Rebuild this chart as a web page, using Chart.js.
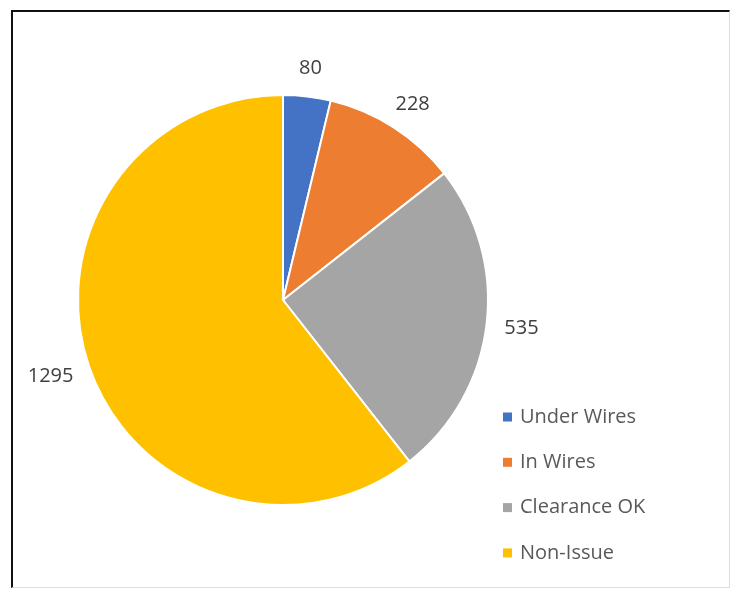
<!DOCTYPE html>
<html>
<head>
<meta charset="utf-8">
<script src="https://cdn.jsdelivr.net/npm/chart.js@4.4.0/dist/chart.umd.min.js"></script>
<style>
  html, body { margin: 0; padding: 0; background: #fff; }
  #wrap { position: relative; width: 730px; height: 589px; overflow: hidden; }
  #frame {
    position: absolute; left: 11px; top: 10px; width: 716px; height: 575px;
    border-top: 2px solid #111; border-left: 2px solid #111;
    border-right: 1px solid #ddd; border-bottom: 1px solid #ddd;
  }
  #pie { position: absolute; left: 0; top: 0; }
</style>
</head>
<body>
<div id="wrap">
  <div id="frame"></div>
  <canvas id="pie" width="730" height="589"></canvas>
</div>
<script>
var labels = ['Under Wires', 'In Wires', 'Clearance OK', 'Non-Issue'];
var values = [80, 228, 535, 1295];
var colors = ['#4472C4', '#ED7D31', '#A5A5A5', '#FFC000'];

var ctx = document.getElementById('pie').getContext('2d');

// value labels outside each slice, nearest edge a fixed gap from the rim
var outsideLabels = {
  id: 'outsideLabels',
  afterDatasetsDraw: function(chart) {
    var c = chart.ctx;
    var meta = chart.getDatasetMeta(0);
    c.save();
    c.font = '20px "Open Sans", sans-serif';
    c.fillStyle = '#404040';
    c.textAlign = 'center';
    c.textBaseline = 'middle';
    meta.data.forEach(function(arc, i) {
      var txt = String(values[i]);
      var w = c.measureText(txt).width;
      var h = 20;
      var mid = (arc.startAngle + arc.endAngle) / 2;
      var r = arc.outerRadius + 18;
      var x = arc.x + Math.cos(mid) * r + Math.cos(mid) * w / 2;
      var y = arc.y + Math.sin(mid) * r + Math.sin(mid) * h / 2;
      c.fillText(txt, x, y);
    });
    c.restore();
  }
};

// legend drawn in the lower right like the original
var sideLegend = {
  id: 'sideLegend',
  afterDraw: function(chart) {
    var c = chart.ctx;
    c.save();
    c.font = '20px "Open Sans", sans-serif';
    c.textBaseline = 'middle';
    c.textAlign = 'left';
    labels.forEach(function(lab, i) {
      var y = 417 + i * 45.3;
      c.fillStyle = colors[i];
      c.fillRect(503, y - 4.5, 9, 9);
      c.fillStyle = '#595959';
      c.fillText(lab, 520, y);
    });
    c.restore();
  }
};

var pieChart = new Chart(ctx, {
  type: 'pie',
  data: {
    labels: labels,
    datasets: [{
      data: values,
      backgroundColor: colors,
      borderColor: '#ffffff',
      borderWidth: 2
    }]
  },
  options: {
    responsive: false,
    animation: false,
    layout: { padding: { left: 77, right: 241, top: 94, bottom: 83 } },
    plugins: {
      legend: { display: false },
      tooltip: { enabled: false }
    }
  },
  plugins: [outsideLabels, sideLegend]
});
</script>
</body>
</html>
